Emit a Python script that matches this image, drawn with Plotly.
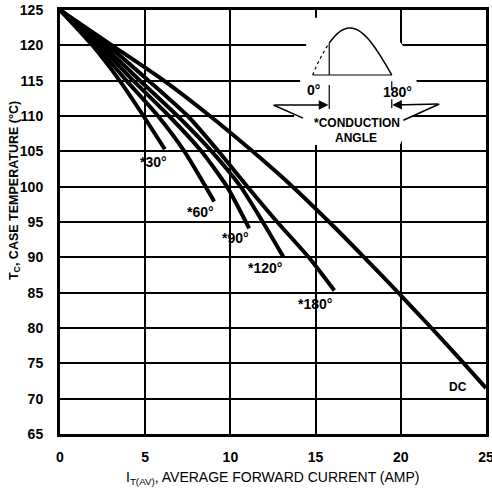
import numpy as np
import plotly.graph_objects as go

# ---- data ----
temp_30 = [125, 120, 115, 110, 105.3]
amp_30 = [0, 1.9, 3.5, 4.9, 6.15]

temp_60 = [125, 120, 115, 110, 105, 100, 97.9]
amp_60 = [0, 2.1, 3.9, 5.75, 7.3, 8.55, 9.05]

temp_90 = [125, 120, 115, 110, 105, 100, 94.1]
amp_90 = [0, 2.3, 4.3, 6.4, 8.3, 9.8, 11.1]

temp_120 = [125, 120, 115, 110, 105, 100, 95, 90.1]
amp_120 = [0, 2.5, 4.7, 6.9, 8.9, 10.6, 11.9, 13.1]

temp_180 = [125, 120, 115, 110, 105, 100, 95, 90, 85.3]
amp_180 = [0, 2.8, 5.2, 7.5, 9.3, 11.0, 12.75, 14.6, 16.1]

temp_dc = [125, 120, 115, 110, 105, 100, 95, 90, 85, 80, 75, 71.5]
amp_dc = [0, 3.05, 6.1, 8.8, 11.3, 13.65, 15.8, 17.85, 19.85, 21.8, 23.7, 25]

curve_labels = ["*30°", "*60°", "*90°", "*120°", "*180°", "DC"]
x_ticks = [0, 5, 10, 15, 20, 25]
y_ticks = [65, 70, 75, 80, 85, 90, 95, 100, 105, 110, 115, 120, 125]

FONT = "Liberation Sans, Arial, Helvetica, sans-serif"

fig = go.Figure()
series = [(amp_30, temp_30), (amp_60, temp_60), (amp_90, temp_90),
          (amp_120, temp_120), (amp_180, temp_180), (amp_dc, temp_dc)]
for (xs, ys), name in zip(series, curve_labels):
    fig.add_trace(go.Scatter(x=xs, y=ys, mode="lines", name=name,
                             line=dict(color="black", width=4, shape="spline", smoothing=0.6),
                             showlegend=False, hoverinfo="skip"))

# curve labels
label_pos = [(5.48, 103.5), (8.22, 96.4), (10.27, 92.7), (12.03, 88.45), (14.96, 83.4), (23.37, 71.6)]
for txt, (lx, ly) in zip(curve_labels, label_pos):
    fig.add_annotation(x=lx, y=ly, text=txt, showarrow=False,
                       font=dict(family=FONT, size=14 if txt != "DC" else 12, color="black", weight="bold"))

shapes = []
# white mask behind the inset (gridlines broken there)
mask = [(14.61, 123.87), (17.61, 124.15), (19.78, 121.04), (20.13, 119.91), (20.95, 114.81),
        (20.66, 109.86), (19.95, 105.9), (14.38, 105.9), (13.73, 109.86), (14.08, 114.81), (14.44, 119.91)]
path = "M " + " L ".join(f"{a},{b}" for a, b in mask) + " Z"
shapes.append(dict(type="path", path=path, xref="x", yref="y", fillcolor="white",
                   line=dict(width=0), layer="above"))

# inset half-sine waveform
x0, x1 = 14.83, 19.47
base = 115.8
amp = 6.65
fire = 15.80
def wave(a):
    u = (a - x0) / (x1 - x0)
    return base + amp*np.sin(np.pi*u**0.92)
t = np.linspace(x0, fire, 20)
dashed = "M " + " L ".join(f"{a:.3f},{wave(a):.3f}" for a in t)
t2 = np.linspace(fire, x1, 60)
solid = "M " + " L ".join(f"{a:.3f},{wave(a):.3f}" for a in t2)
yfire = wave(fire)
shapes.append(dict(type="path", path=dashed, xref="x", yref="y", line=dict(color="black", width=1.2, dash="dot"), layer="above"))
shapes.append(dict(type="path", path=solid, xref="x", yref="y", line=dict(color="black", width=1.5), layer="above"))
shapes.append(dict(type="line", x0=x0, x1=x1, y0=base, y1=base, xref="x", yref="y", line=dict(color="black", width=1.2), layer="above"))
shapes.append(dict(type="line", x0=fire, x1=fire, y0=base, y1=yfire, xref="x", yref="y", line=dict(color="black", width=1.2), layer="above"))
# ticks under the waveform
shapes.append(dict(type="line", x0=fire, x1=fire, y0=114.4, y1=111.0, xref="x", yref="y", line=dict(color="black", width=1.2), layer="above"))
shapes.append(dict(type="line", x0=x1, x1=x1, y0=114.9, y1=111.0, xref="x", yref="y", line=dict(color="black", width=1.2, dash="dash"), layer="above"))
# wedge strokes of the callout arrows
shapes.append(dict(type="line", x0=12.52, y0=111.56, x1=14.26, y1=109.7, xref="x", yref="y", line=dict(color="black", width=1.5), layer="above"))
shapes.append(dict(type="line", x0=22.26, y0=111.7, x1=20.15, y1=109.4, xref="x", yref="y", line=dict(color="black", width=1.5), layer="above"))

fig.update_layout(shapes=shapes)

# arrows
fig.add_annotation(x=15.75, y=111.56, ax=12.52, ay=111.56, axref="x", ayref="y", xref="x", yref="y",
                   text="", showarrow=True, arrowhead=2, arrowsize=1.2, arrowwidth=1.6, arrowcolor="black")
fig.add_annotation(x=19.50, y=111.56, ax=22.26, ay=111.7, axref="x", ayref="y", xref="x", yref="y",
                   text="", showarrow=True, arrowhead=2, arrowsize=1.2, arrowwidth=1.6, arrowcolor="black")

fig.add_annotation(x=14.9, y=113.7, text="0°", showarrow=False, font=dict(family=FONT, size=14, color="black", weight="bold"))
fig.add_annotation(x=19.8, y=113.4, text="180°", showarrow=False, font=dict(family=FONT, size=14, color="black", weight="bold"))
fig.add_annotation(x=17.41, y=109.05, text="*CONDUCTION", showarrow=False, font=dict(family=FONT, size=12, color="black", weight="bold"))
fig.add_annotation(x=17.37, y=106.85, text="ANGLE", showarrow=False, font=dict(family=FONT, size=12, color="black", weight="bold"))

# axis titles
fig.add_annotation(xref="paper", yref="paper", x=0.498, y=-0.104, yanchor="middle",
                   text="I<sub>T(AV)</sub>, AVERAGE FORWARD CURRENT (AMP)", showarrow=False,
                   font=dict(family=FONT, size=14, color="black"))
fig.add_annotation(xref="paper", yref="paper", x=-0.106, y=0.575, xanchor="center", yanchor="middle",
                   textangle=-90, text="T<sub>C</sub>, CASE TEMPERATURE (°C)", showarrow=False,
                   font=dict(family=FONT, size=12.5, color="black", weight="bold"))

fig.update_xaxes(range=[0, 25], tickvals=x_ticks, ticktext=[str(v) for v in x_ticks],
                 showgrid=True, gridcolor="black", gridwidth=2, zeroline=False,
                 showline=True, linecolor="black", linewidth=3, mirror=True,
                 ticks="outside", ticklen=8, tickcolor="rgba(0,0,0,0)", automargin=False,
                 ticklabeloverflow="allow",
                 tickfont=dict(family=FONT, size=14, color="black", weight="bold"))
fig.update_yaxes(range=[65, 125], tickvals=y_ticks, ticktext=[str(v) for v in y_ticks],
                 showgrid=True, gridcolor="black", gridwidth=2, zeroline=False,
                 showline=True, linecolor="black", linewidth=3, mirror=True,
                 ticks="outside", ticklen=11, tickcolor="rgba(0,0,0,0)", automargin=False,
                 ticklabeloverflow="allow",
                 tickfont=dict(family=FONT, size=14, color="black", weight="bold"))

fig.update_layout(width=492, height=490, margin=dict(l=60, r=6, t=10, b=56),
                  paper_bgcolor="white", plot_bgcolor="white", showlegend=False)

# remove the browser's default 8px body margin so the figure sits at the window origin
fig.write_html("out.html", config={"displayModeBar": False},
               post_script="document.body.style.margin='0';")
